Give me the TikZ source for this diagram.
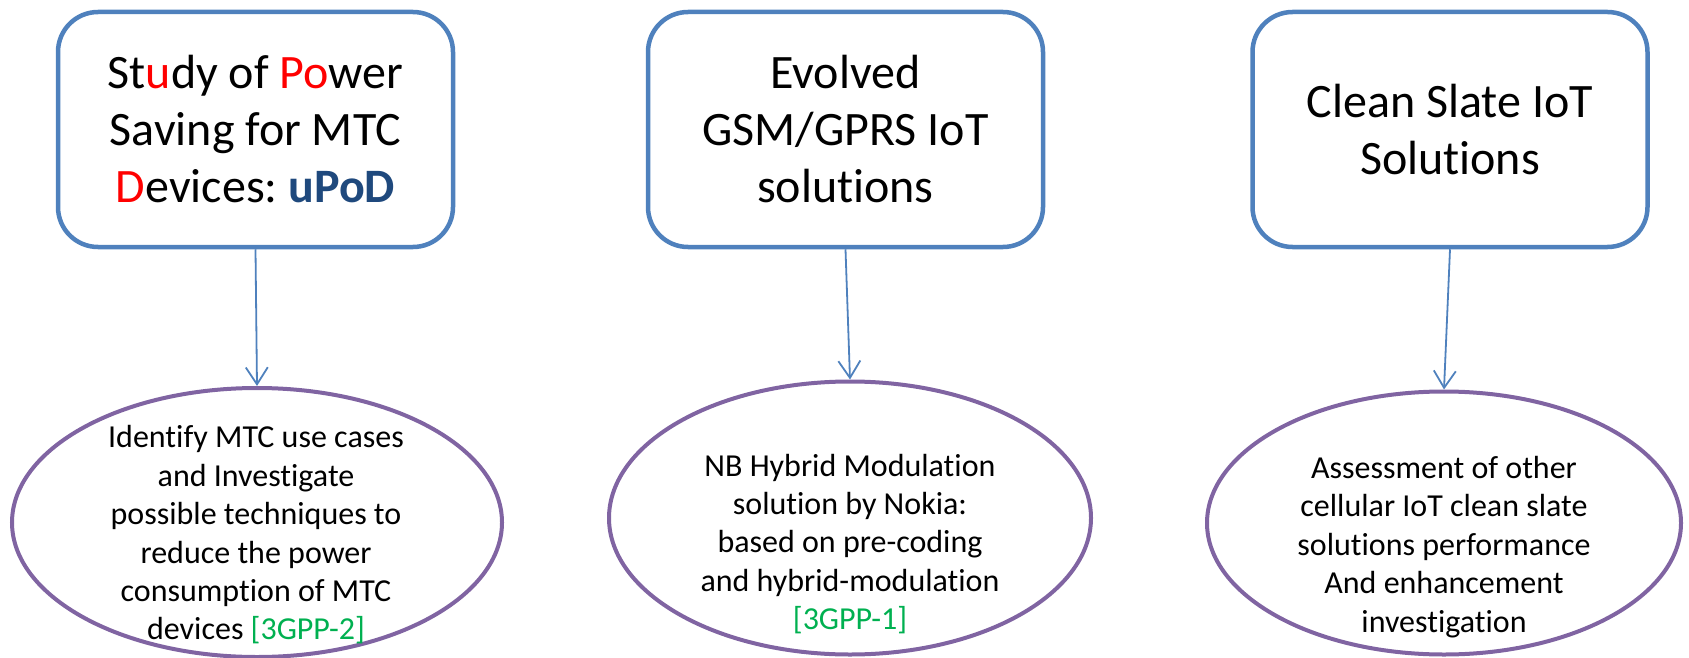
\documentclass[tikz,border=0pt]{standalone}
\usepackage{fontspec}
\setmainfont{Carlito}[RawFeature={-liga;-clig;-calt;-dlig}]
\frenchspacing
\usetikzlibrary{shapes.geometric,arrows.meta}
\definecolor{boxblue}{HTML}{4F81BD}
\definecolor{ellpurple}{HTML}{8064A2}
\definecolor{redtxt}{HTML}{FF0000}
\definecolor{navytxt}{HTML}{1F497D}
\definecolor{reftxt}{HTML}{00B050}
\begin{document}
\begin{tikzpicture}[x=1pt,y=-1pt,
  topbox/.style={draw=boxblue, line width=4.5pt, rounded corners=40pt, minimum width=395pt, minimum height=235pt, align=center, inner sep=0pt, font=\fontsize{48}{57}\selectfont, fill=white},
  oval/.style={draw=ellpurple, line width=4pt, ellipse, inner sep=0pt},
  ovaltext/.style={align=center, font=\fontsize{32}{38.4}\selectfont, inner sep=0pt},
  link/.style={draw=boxblue, line width=1.8pt, -{Straight Barb[length=17pt,width=22pt,line width=1.8pt]}}
]
\useasboundingbox (0,0) rectangle (1689,658);
\node[topbox] (b1) at (255.5,129.5) {St{\color{redtxt}u}dy of {\color{redtxt}Po}wer\\Saving for MTC\\{\color{redtxt}D}evices: {\bfseries\color{navytxt}uPoD}};
\node[topbox] (b2) at (845.5,129.5) {Evolved\\GSM/GPRS IoT\\solutions};
\node[topbox] (b3) at (1450,129.5) {Clean Slate IoT\\Solutions};

\node[oval, minimum width=490pt, minimum height=269pt] (e1) at (257,522.5) {};
\node[oval, minimum width=482pt, minimum height=273pt] (e2) at (850,518) {};
\node[oval, minimum width=474pt, minimum height=263pt] (e3) at (1444,523) {};

\node[ovaltext] (t1) at (256,535) {Identify MTC use cases\\and Investigate\\possible techniques to\\reduce the power\\consumption of MTC\\devices {\color{reftxt}[3GPP-2]}};
\node[ovaltext] (t2) at (850,544) {NB Hybrid Modulation\\solution by Nokia:\\based on pre-coding\\and hybrid-modulation\\{\color{reftxt}[3GPP-1]}};
\node[ovaltext] (t3) at (1444,547) {Assessment of other\\cellular IoT clean slate\\solutions performance\\And enhancement\\investigation};

\draw[link] (b1.south) -- (e1.north);
\draw[link] (b2.south) -- (e2.north);
\draw[link] (b3.south) -- (e3.north);
\end{tikzpicture}
\end{document}
